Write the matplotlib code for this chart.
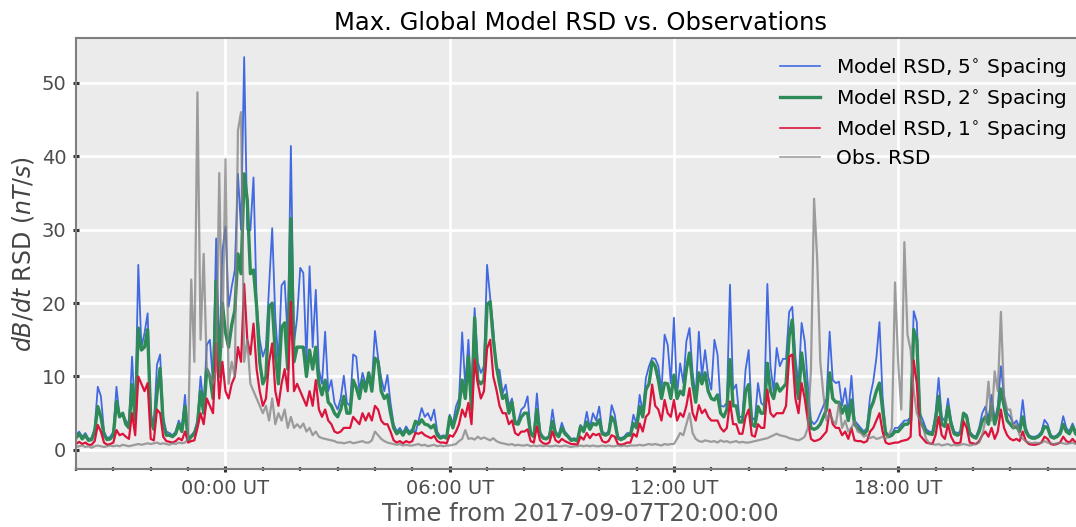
import numpy as np
import matplotlib
matplotlib.use("Agg")
import matplotlib.pyplot as plt
import matplotlib.dates as mdates

# 5-minute samples starting at 2017-09-07T20:00, one line per hour
t_start = np.datetime64("2017-09-07T20:00")
step_min = 5

rsd_5deg = [
    2.0, 2.5, 1.8, 2.3, 1.5, 1.6, 3.0, 8.6, 7.3, 2.5, 1.6, 1.8,
    2.5, 8.6, 4.5, 4.8, 4.0, 3.5, 12.7, 4.5, 25.2, 14.0, 15.9, 18.6,
    5.0, 3.2, 11.6, 13.0, 4.5, 2.5, 2.3, 2.0, 2.5, 4.0, 3.0, 7.5,
    1.5, 2.0, 2.5, 4.0, 10.0, 6.0, 14.3, 15.0, 9.0, 28.8, 12.0, 27.0,
    30.4, 19.5, 22.2, 24.5, 37.6, 30.0, 53.5, 30.0, 29.9, 37.1, 20.0, 15.0,
    12.7, 14.0, 22.3, 30.2, 18.0, 12.0, 22.4, 23.0, 15.0, 41.4, 14.5, 18.0,
    24.8, 24.1, 12.0, 25.0, 14.0, 21.8, 11.0, 9.0, 16.1, 8.0, 9.5, 6.4,
    5.5, 7.0, 10.1, 6.4, 6.0, 13.0, 12.7, 8.0, 10.5, 9.0, 10.0, 9.0,
    16.2, 12.5, 9.8, 8.0, 10.2, 6.4, 3.5, 2.5, 3.0, 2.3, 3.2, 2.5,
    2.8, 2.3, 4.0, 5.7, 4.5, 5.0, 4.0, 5.5, 2.5, 1.8, 2.0, 1.8,
    4.8, 3.5, 5.9, 7.0, 16.0, 8.6, 15.0, 7.0, 19.3, 12.0, 10.5, 11.4,
    25.2, 20.7, 16.4, 11.0, 10.9, 7.7, 8.9, 6.0, 7.0, 3.6, 4.0, 5.5,
    5.9, 7.3, 2.5, 2.0, 7.7, 2.5, 1.8, 1.6, 2.0, 5.5, 2.5, 2.0,
    3.7, 2.5, 2.0, 1.5, 1.6, 1.4, 3.4, 2.8, 5.2, 3.0, 5.0, 4.0,
    5.9, 2.5, 2.2, 2.5, 6.1, 4.8, 1.8, 1.6, 1.8, 2.3, 2.3, 4.8,
    3.5, 7.5, 5.0, 9.8, 11.4, 12.5, 12.4, 11.4, 8.0, 15.7, 14.3, 9.1,
    18.0, 7.5, 11.8, 9.1, 14.8, 16.6, 10.5, 7.3, 16.1, 10.0, 13.6, 10.0,
    8.2, 15.0, 13.0, 6.0, 5.9, 6.4, 22.5, 8.2, 8.9, 4.5, 4.5, 10.9,
    13.6, 4.5, 4.0, 9.1, 6.4, 6.0, 22.6, 11.4, 8.0, 13.9, 11.4, 12.4,
    12.4, 18.8, 19.5, 12.7, 8.9, 17.3, 14.8, 8.9, 4.0, 3.5, 4.0, 5.0,
    6.0, 7.0, 16.1, 9.5, 9.1, 9.3, 6.0, 8.4, 5.0, 10.1, 4.0, 3.5,
    3.0, 2.5, 3.0, 7.3, 9.3, 12.5, 17.4, 7.3, 2.5, 2.0, 2.2, 3.0,
    3.0, 3.5, 4.0, 4.0, 4.5, 18.9, 17.4, 5.0, 4.0, 2.8, 2.5, 2.4,
    5.0, 9.8, 4.5, 3.9, 7.0, 4.0, 2.5, 2.3, 2.5, 5.0, 4.8, 2.5,
    2.0, 1.8, 3.0, 5.0, 5.9, 4.0, 7.5, 4.0, 6.0, 11.4, 7.3, 5.0,
    4.5, 3.5, 4.0, 3.0, 6.8, 3.0, 2.0, 1.8, 1.8, 2.0, 2.5, 4.1,
    3.5, 2.0, 1.8, 2.0, 2.5, 4.6, 3.0, 2.5, 3.6, 2.5, 2.0, 2.2,
    2.0,
]

rsd_2deg = [
    1.6, 2.2, 1.5, 2.0, 1.3, 1.4, 2.5, 5.9, 4.5, 2.0, 1.4, 1.5,
    2.0, 6.6, 4.5, 5.0, 3.5, 3.0, 8.9, 4.0, 16.6, 13.6, 14.0, 16.4,
    4.0, 2.8, 7.7, 11.1, 3.5, 2.0, 2.0, 1.8, 2.2, 3.5, 2.5, 5.9,
    1.3, 1.8, 2.2, 3.5, 8.0, 5.0, 11.0, 10.0, 7.0, 23.0, 10.0, 20.0,
    16.0, 14.0, 17.0, 19.0, 26.7, 24.0, 37.6, 34.0, 24.0, 24.5, 19.5, 12.0,
    9.0, 10.0, 19.5, 20.0, 13.0, 9.0, 16.7, 17.3, 11.0, 31.5, 12.0, 14.0,
    14.0, 14.0, 10.0, 13.6, 11.0, 14.0, 9.0, 7.5, 9.5, 6.5, 6.0, 5.0,
    4.5, 5.5, 7.3, 5.0, 5.0, 9.5, 8.5, 7.0, 9.5, 8.0, 10.5, 8.0,
    12.5, 12.0, 8.0, 7.0, 7.5, 5.0, 3.0, 2.2, 2.6, 2.0, 2.8, 2.2,
    2.5, 3.9, 3.5, 4.1, 3.5, 3.4, 3.0, 3.4, 2.0, 1.6, 1.8, 1.6,
    4.5, 3.0, 4.5, 6.0, 9.5, 7.0, 12.7, 5.5, 18.0, 9.5, 9.0, 9.5,
    19.8, 20.2, 15.0, 11.4, 9.0, 7.0, 7.5, 5.0, 6.5, 3.6, 3.5, 4.5,
    5.0, 5.0, 2.2, 1.8, 5.5, 2.2, 1.6, 1.5, 1.8, 3.9, 2.2, 1.8,
    3.0, 2.2, 1.8, 1.3, 1.4, 1.2, 3.2, 2.5, 3.8, 2.8, 3.6, 3.4,
    4.1, 2.2, 2.0, 2.2, 4.5, 3.8, 1.6, 1.4, 1.6, 2.0, 2.0, 3.6,
    3.0, 5.9, 4.5, 8.2, 9.0, 12.0, 11.4, 9.5, 7.0, 9.1, 9.0, 7.0,
    10.2, 7.0, 8.0, 7.5, 11.0, 13.2, 9.0, 6.5, 10.5, 9.0, 10.5, 8.0,
    7.0, 6.8, 7.5, 5.0, 4.5, 5.5, 12.3, 6.0, 6.0, 3.8, 3.8, 8.0,
    8.9, 3.5, 3.2, 5.9, 5.0, 5.0, 11.8, 8.0, 7.0, 9.0, 8.0, 8.5,
    9.0, 15.5, 17.7, 10.0, 7.0, 13.2, 10.0, 6.0, 3.0, 2.8, 3.0, 3.5,
    4.5, 5.5, 10.5, 7.0, 6.5, 6.5, 5.0, 6.0, 4.0, 6.8, 3.5, 3.0,
    2.6, 2.2, 2.6, 5.5, 6.5, 8.0, 9.1, 5.5, 2.2, 1.8, 2.0, 2.5,
    2.5, 3.0, 3.5, 3.5, 4.0, 16.4, 15.0, 4.0, 3.2, 2.4, 2.2, 2.1,
    4.0, 7.3, 3.5, 3.2, 5.9, 3.5, 2.2, 2.0, 2.2, 5.0, 4.5, 2.2,
    1.8, 1.6, 2.5, 3.9, 4.5, 3.5, 6.0, 3.5, 5.0, 8.3, 6.0, 4.0,
    3.5, 3.0, 3.2, 2.5, 4.5, 2.5, 1.8, 1.6, 1.6, 1.8, 2.2, 3.2,
    3.0, 1.8, 1.6, 1.8, 2.2, 3.5, 2.5, 2.2, 3.2, 2.2, 1.8, 2.0,
    1.8,
]

rsd_1deg = [
    0.8, 1.1, 0.8, 1.0, 0.7, 0.7, 1.2, 3.4, 2.5, 1.0, 0.7, 0.8,
    1.0, 2.7, 2.0, 2.2, 1.8, 1.5, 5.0, 2.0, 10.0, 9.0, 8.0, 9.1,
    1.5, 1.3, 5.5, 5.0, 1.8, 1.2, 1.1, 1.0, 1.2, 1.6, 1.3, 2.5,
    1.0, 1.2, 1.3, 3.0, 5.0, 3.5, 7.0, 6.0, 5.0, 14.5, 7.0, 12.0,
    8.0, 7.0, 9.0, 10.0, 14.0, 12.0, 22.6, 15.0, 13.0, 17.2, 11.0, 8.0,
    6.0, 7.0, 12.0, 14.5, 8.0, 6.0, 9.0, 11.0, 8.0, 20.2, 8.0, 9.0,
    8.0, 7.0, 6.0, 8.0, 6.0, 9.5, 5.5, 4.5, 5.5, 4.0, 3.5, 2.5,
    2.3, 2.5, 3.0, 3.0, 3.0, 4.5, 4.0, 3.5, 5.0, 4.0, 5.0, 4.0,
    6.0, 5.5, 4.0, 3.5, 3.5, 2.5, 1.3, 1.0, 1.2, 0.9, 1.2, 1.0,
    1.2, 2.3, 2.2, 2.4, 2.0, 1.8, 1.6, 1.9, 1.2, 1.0, 1.0, 0.9,
    2.0, 1.8, 2.5, 3.5, 5.5, 4.5, 6.4, 3.5, 12.3, 9.1, 7.0, 8.0,
    13.8, 15.0, 10.0, 8.2, 6.0, 5.0, 5.0, 3.5, 4.0, 2.3, 2.0, 2.5,
    2.5, 2.8, 1.2, 1.0, 3.2, 1.3, 0.9, 0.8, 1.0, 2.5, 1.3, 1.0,
    1.5, 1.2, 1.0, 0.8, 0.8, 0.7, 1.8, 1.4, 2.3, 1.6, 2.2, 2.0,
    2.2, 1.2, 1.0, 1.2, 2.0, 1.8, 0.8, 0.7, 0.8, 1.0, 1.0, 2.2,
    1.8, 3.6, 2.5, 4.5, 5.0, 8.9, 6.0, 5.5, 4.0, 6.8, 5.0, 4.5,
    6.8, 4.0, 5.0, 4.5, 6.0, 8.4, 5.0, 4.0, 6.1, 5.0, 5.5, 4.5,
    4.0, 4.0, 4.0, 3.0, 2.5, 3.0, 6.6, 3.5, 3.5, 2.2, 2.2, 4.5,
    5.5, 2.0, 1.8, 3.5, 3.0, 3.0, 8.2, 5.0, 4.5, 5.0, 5.0, 5.0,
    6.0, 12.7, 13.0, 7.0, 5.0, 9.1, 7.0, 4.0, 1.5, 1.2, 1.3, 1.5,
    2.0, 2.5, 5.5, 3.5, 3.0, 3.0, 2.0, 2.5, 1.5, 3.0, 1.3, 1.2,
    1.2, 1.0, 1.2, 2.5, 3.0, 4.0, 5.0, 2.5, 1.0, 0.8, 0.9, 1.0,
    1.0, 1.2, 1.3, 1.4, 1.8, 12.2, 9.0, 2.0, 1.5, 1.0, 0.9, 0.8,
    2.0, 4.5, 2.0, 1.5, 3.5, 1.8, 1.0, 0.9, 1.0, 3.9, 3.0, 1.0,
    0.9, 0.8, 1.2, 2.0, 2.5, 1.8, 3.0, 1.5, 2.5, 5.5, 3.0, 2.0,
    1.5, 1.3, 1.5, 1.2, 2.5, 1.2, 0.8, 0.7, 0.7, 0.8, 1.0, 1.8,
    1.5, 0.8, 0.7, 0.8, 1.0, 1.8, 1.2, 1.0, 1.5, 1.0, 0.8, 0.9,
    0.8,
]

rsd_obs = [
    0.4, 0.5, 0.6, 0.4, 0.5, 0.3, 0.5, 0.6, 0.5, 0.4, 0.5, 0.6,
    0.5, 0.6, 0.5, 0.7, 0.6, 0.5, 0.6, 0.7, 0.8, 0.7, 0.8, 0.9,
    0.8, 0.9, 1.0, 0.8, 0.9, 0.8, 0.7, 0.9, 0.8, 1.0, 0.9, 1.0,
    1.5, 23.2, 12.0, 48.7, 15.0, 26.7, 11.0, 10.0, 9.0, 11.0, 37.7, 14.0,
    39.6, 9.0, 12.0, 10.0, 43.5, 46.0, 12.0, 15.0, 9.0, 8.0, 7.0, 6.0,
    5.0, 6.0, 4.0, 7.0, 3.5, 5.0, 4.0, 5.5, 3.0, 4.5, 3.0, 3.5,
    3.0, 3.6, 2.5, 3.0, 2.0, 2.5, 1.8, 1.6, 1.5, 1.4, 1.3, 1.2,
    1.0, 1.0, 0.9, 1.0, 1.1, 0.9, 1.0, 1.1, 1.2, 1.0, 1.0, 1.3,
    2.5, 2.0, 1.5, 1.2, 1.0, 0.9, 0.8, 0.7, 0.8, 0.6, 0.7, 0.6,
    0.6, 0.7, 0.8, 0.6, 0.7, 0.5, 0.6, 0.7, 0.5, 0.6, 0.5, 0.6,
    0.6, 0.7, 0.8, 1.2, 1.5, 2.7, 1.5, 1.6, 1.4, 1.8, 1.5, 1.7,
    1.5, 1.3, 1.6, 1.2, 1.0, 0.9, 0.8, 0.7, 0.8, 0.6, 0.7, 0.6,
    0.6, 0.7, 0.5, 0.6, 0.5, 0.6, 0.5, 0.6, 0.5, 0.5, 0.6, 0.5,
    0.5, 0.6, 0.5, 0.4, 0.5, 0.5, 0.6, 0.5, 0.6, 0.5, 0.6, 0.5,
    0.5, 0.6, 0.5, 0.6, 0.5, 0.5, 0.6, 0.5, 0.6, 0.5, 0.6, 0.6,
    0.6, 0.7, 0.6, 0.7, 0.8, 0.7, 0.8, 0.7, 0.6, 0.8, 0.7, 0.8,
    0.8, 1.5, 2.3, 2.0, 3.5, 5.0, 2.3, 1.5, 1.2, 1.1, 1.3, 1.2,
    1.1, 1.2, 1.0, 1.3, 1.1, 1.2, 1.0, 1.1, 1.2, 1.0, 1.1, 1.0,
    1.0, 1.1, 1.2, 1.3, 1.4, 1.5, 1.6, 1.8, 2.0, 2.2, 2.0, 1.9,
    1.8, 1.6, 1.5, 1.4, 1.3, 1.5, 1.8, 3.0, 10.9, 34.2, 26.0, 12.0,
    7.5, 4.0, 5.0, 4.0, 3.5, 6.4, 3.0, 4.0, 2.5, 3.0, 3.9, 2.5,
    2.3, 1.8, 2.0, 1.6, 1.8, 1.5, 1.6, 1.8, 1.5, 2.0, 3.0, 22.8,
    12.0, 5.5, 28.3, 15.7, 13.6, 8.0, 5.0, 4.0, 3.0, 1.5, 0.9, 0.8,
    0.7, 0.8, 0.6, 0.7, 0.8, 0.6, 0.7, 0.6, 0.7, 0.8, 0.7, 0.6,
    0.7, 0.8, 1.0, 2.0, 4.0, 9.3, 4.0, 10.7, 8.0, 18.8, 7.3, 5.5,
    5.5, 3.0, 3.6, 2.0, 1.5, 1.2, 1.0, 0.9, 1.0, 0.9, 1.0, 1.2,
    1.0, 0.9, 0.8, 0.9, 1.0, 0.9, 0.8, 0.9, 1.0, 0.8, 0.9, 0.8,
    0.8,
]

times = t_start + np.arange(len(rsd_obs)) * np.timedelta64(step_min, "m")

plt.rcParams["font.family"] = "DejaVu Sans"

fig = plt.figure(figsize=(10.76, 5.27), dpi=100)
# axes runs a few pixels past the right edge, as in the cropped original
ax = fig.add_axes([76 / 1076, 58 / 527, 1009 / 1076, 431 / 527])
ax.set_facecolor("#EBEBEB")
ax.grid(True, color="white", lw=2.0)
ax.set_axisbelow(True)
for s in ax.spines.values():
    s.set_color("#7F7F7F")
    s.set_linewidth(1.5)

ax.plot(times, rsd_5deg, color="royalblue", lw=1.3,
        label=r"Model RSD, 5$^{\circ}$ Spacing")
ax.plot(times, rsd_2deg, color="seagreen", lw=2.4,
        label=r"Model RSD, 2$^{\circ}$ Spacing")
ax.plot(times, rsd_1deg, color="crimson", lw=1.6,
        label=r"Model RSD, 1$^{\circ}$ Spacing")
ax.plot(times, rsd_obs, color="gray", lw=1.6, alpha=0.75, label="Obs. RSD")

ax.set_xlim(t_start, t_start + np.timedelta64(27, "h"))
ax.set_ylim(-2.6, 56.1)
ax.set_yticks([0, 10, 20, 30, 40, 50])

ax.xaxis.set_major_locator(mdates.HourLocator(byhour=[0, 6, 12, 18]))
ax.xaxis.set_minor_locator(mdates.HourLocator())
ax.xaxis.set_major_formatter(mdates.DateFormatter("%H:%M UT"))

ax.tick_params(which="major", direction="inout", length=4, width=2.2,
               color="#333333", labelsize=14, labelcolor="#4D4D4D", pad=5)
ax.tick_params(which="minor", direction="inout", length=3, width=1.6,
               color="#444444")

ax.set_title("Max. Global Model RSD vs. Observations", fontsize=17.5,
             color="black")
ax.set_xlabel("Time from 2017-09-07T20:00:00", fontsize=17.5,
              color="#555555", labelpad=3)
ax.set_ylabel(r"$dB/dt$ RSD $(nT/s)$", fontsize=17, color="#444444")

leg = ax.legend(loc="upper right", frameon=False, fontsize=14.5,
                labelspacing=0.4)
for line in leg.get_lines():
    line.set_linewidth(1.2 if line.get_color() != "seagreen" else 2.4)

fig.savefig("out.png", dpi=100)
